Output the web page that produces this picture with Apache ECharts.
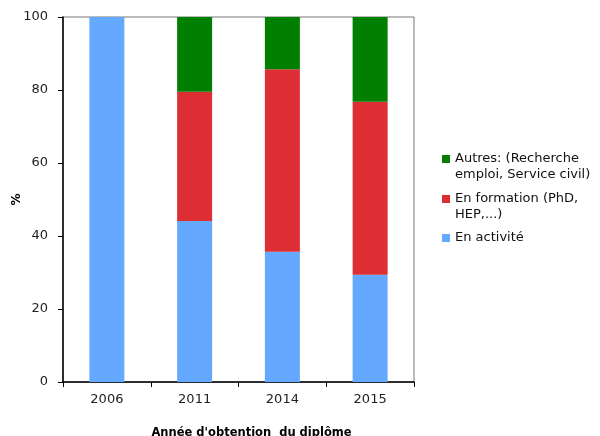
<!DOCTYPE html>
<html><head><meta charset="utf-8">
<script src="https://cdn.jsdelivr.net/npm/echarts@6/dist/echarts.min.js"></script>
<style>html,body{margin:0;padding:0;background:#fff}#c{width:600px;height:436px}</style>
</head><body><div id="c"></div>
<script>
const categories = ['2006', '2011', '2014', '2015'];
const enActivite = [100, 44.1, 35.7, 29.4];
const enFormation = [0, 35.4, 50.0, 47.4];
const autres = [0, 20.5, 14.3, 23.2];
const yTicks = [0, 20, 40, 60, 80, 100];

const nameAutres = 'Autres: (Recherche emploi, Service civil)';
const nameFormation = 'En formation (PhD, HEP,...)';
const nameActivite = 'En activité';
const legendText = {};
legendText[nameAutres] = '\nAutres: (Recherche\nemploi, Service civil)';
legendText[nameFormation] = '\nEn formation (PhD,\nHEP,...)';
legendText[nameActivite] = 'En activité';

const font = 'DejaVu Sans, Verdana, sans-serif';
const chart = echarts.init(document.getElementById('c'));
const legendBase = {
  orient: 'vertical', left: 442, itemWidth: 8, itemHeight: 8, itemGap: 7,
  selectedMode: false, icon: 'rect', padding: 0,
  formatter: n => legendText[n],
  textStyle: { fontFamily: font, fontSize: 13, color: '#111', lineHeight: 15.5 }
};
chart.setOption({
  animation: false,
  grid: { left: 63, top: 17, width: 351, height: 365, show: true, borderColor: '#777', borderWidth: 1,
    containLabel: false, outerBoundsMode: 'none' },
  legend: [
    Object.assign({}, legendBase, { top: 135.75, data: [nameAutres] }),
    Object.assign({}, legendBase, { top: 175.75, data: [nameFormation] }),
    Object.assign({}, legendBase, { top: 230.25, data: [nameActivite] })
  ],
  xAxis: {
    type: 'category', data: categories,
    name: "Année d'obtention  du diplôme", nameLocation: 'middle', nameGap: 45, nameMoveOverlap: false,
    nameTextStyle: { fontFamily: font, fontSize: 11.5, fontWeight: 'bold', color: '#000', padding: [0, 0, 0, 26] },
    axisLine: { lineStyle: { color: '#000', width: 1.5 } },
    axisTick: { show: true, length: 5, lineStyle: { color: '#000' } },
    axisLabel: { fontFamily: font, fontSize: 13, color: '#222', margin: 11 }
  },
  yAxis: {
    type: 'value', min: 0, max: 100, interval: 20,
    name: '%', nameLocation: 'middle', nameGap: 40, nameRotate: 90, nameMoveOverlap: false,
    nameTextStyle: { fontFamily: font, fontSize: 12, fontWeight: 'bold', color: '#000' },
    axisLine: { show: true, lineStyle: { color: '#000', width: 1.5 } },
    axisTick: { show: true, length: 5, lineStyle: { color: '#000' } },
    axisLabel: { fontFamily: font, fontSize: 13, color: '#222', margin: 15,
      formatter: v => yTicks.includes(v) ? String(v) : '' },
    splitLine: { show: false }
  },
  series: [
    { name: nameActivite, type: 'bar', stack: 's', data: enActivite, barWidth: 35,
      itemStyle: { color: '#64a9ff' } },
    { name: nameFormation, type: 'bar', stack: 's', data: enFormation, barWidth: 35,
      itemStyle: { color: '#dd2e33' } },
    { name: nameAutres, type: 'bar', stack: 's', data: autres, barWidth: 35,
      itemStyle: { color: '#007f00' } }
  ]
});
</script></body></html>
